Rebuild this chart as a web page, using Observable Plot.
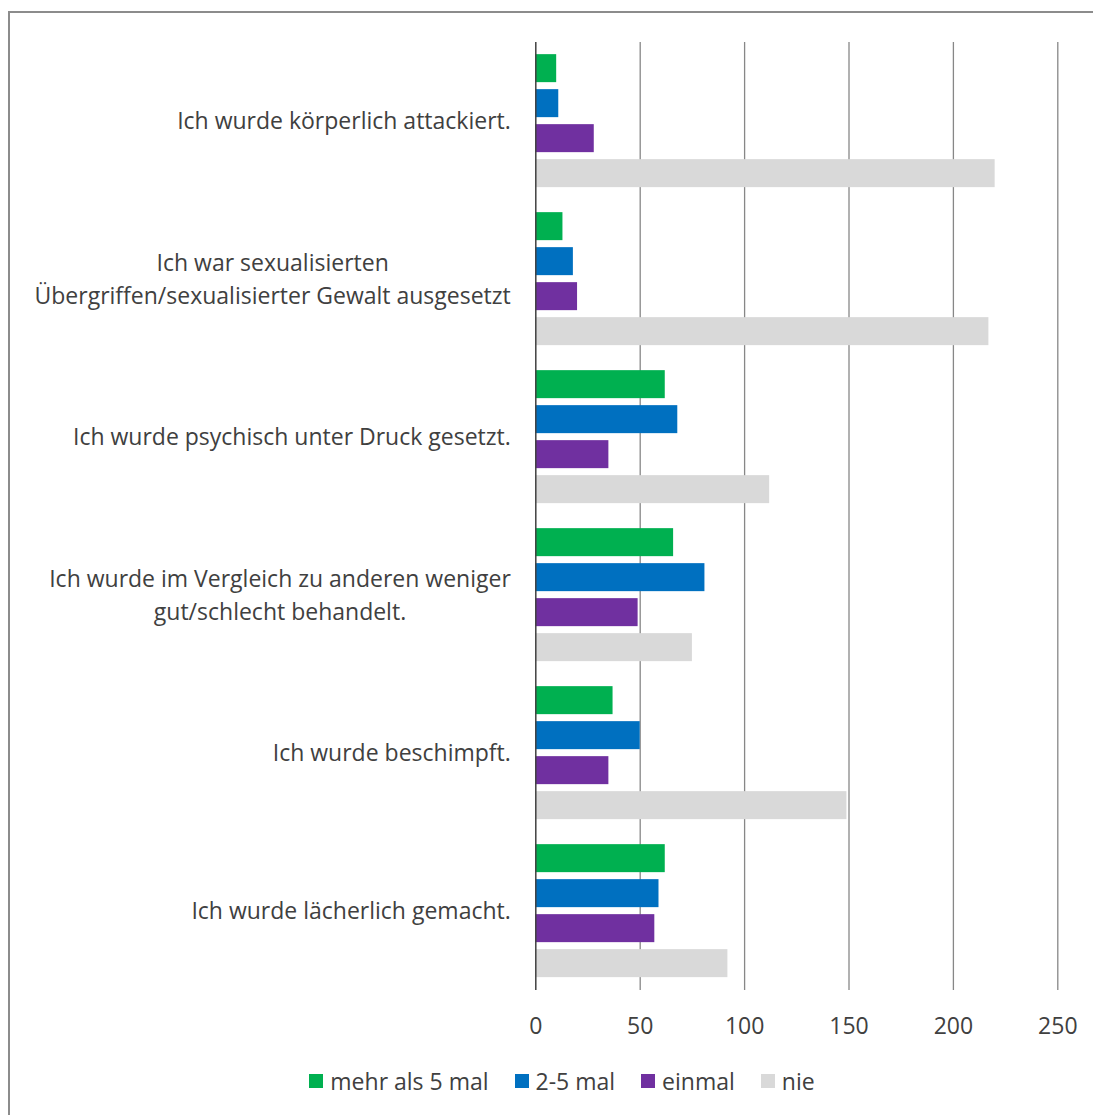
<!DOCTYPE html>
<html><head><meta charset="utf-8">
<script src="https://cdn.jsdelivr.net/npm/d3@7"></script>
<script src="https://cdn.jsdelivr.net/npm/@observablehq/plot@0.6"></script>
<style>
body{margin:0;background:#fff;font-family:"Open Sans", sans-serif;width:1093px;height:1115px;overflow:hidden;position:relative;}
#frame{position:absolute;left:8px;top:11px;width:1108px;height:1110px;border:2px solid #8c8c8c;box-sizing:border-box;}
#chart{position:absolute;left:0;top:0;}
#legend{position:absolute;top:1065px;left:8px;width:1108px;display:flex;justify-content:center;align-items:center;font-family:"Open Sans", sans-serif;font-size:23px;color:#404040;}
#legend .item{display:flex;align-items:center;margin:0 13px;}
#legend .sw{width:14px;height:14px;margin-right:7px;}
</style></head>
<body>
<div id="frame"></div>
<div id="chart"></div>
<div id="legend"></div>
<script>
const questions = [
  "Ich wurde körperlich attackiert.",
  "Ich war sexualisierten\nÜbergriffen/sexualisierter Gewalt ausgesetzt",
  "Ich wurde psychisch unter Druck gesetzt.",
  "Ich wurde im Vergleich zu anderen weniger\ngut/schlecht behandelt.",
  "Ich wurde beschimpft.",
  "Ich wurde lächerlich gemacht."
];
const series = ["mehr als 5 mal", "2-5 mal", "einmal", "nie"];
const mehrAls5 = [10, 13, 62, 66, 37, 62];
const zweiBis5 = [11, 18, 68, 81, 50, 59];
const einmal   = [28, 20, 35, 49, 35, 57];
const nie      = [220, 217, 112, 75, 149, 92];
const xTicks = [0, 50, 100, 150, 200, 250];
const colors = ["#00B050", "#0070C0", "#7030A0", "#D9D9D9"];

const valuesBySeries = [mehrAls5, zweiBis5, einmal, nie];
const data = [];
questions.forEach((q, i) => {
  series.forEach((s, j) => data.push({q, s, v: valuesBySeries[j][i]}));
});

const chart = Plot.plot({
  width: 1093,
  height: 1060,
  marginLeft: 535.3,
  marginRight: 35.7,
  marginTop: 40.85,
  marginBottom: 69.3,
  style: {fontFamily: "'Open Sans', sans-serif", fontSize: "23px", color: "#404040", background: "transparent"},
  x: {domain: [0, 250]},
  fy: {domain: questions, padding: 0},
  y: {domain: series, paddingInner: 0.2, paddingOuter: 0.3, axis: null},
  color: {domain: series, range: colors},
  marks: [
    Plot.gridX(xTicks.filter(d => d > 0), {stroke: "#878787", strokeOpacity: 1, strokeWidth: 1.3}),
    Plot.barX(data, {fy: "q", y: "s", x: "v", fill: "s"}),
    Plot.ruleX([0], {stroke: "#404040", strokeWidth: 1.5}),
    Plot.axisX({ticks: xTicks, tickSize: 0, tickPadding: 27, label: null, fontSize: 23}),
    Plot.axisFy({anchor: "left", tickSize: 0, tickPadding: 25, label: null, fontSize: 23, lineHeight: 1.44, dy: -3})
  ]
});
document.getElementById("chart").appendChild(chart);

// center multi-line category labels relative to each other (Excel style)
chart.querySelectorAll("text").forEach(t => {
  const spans = t.querySelectorAll("tspan");
  if (spans.length > 1) {
    let w = 0;
    spans.forEach(sp => { w = Math.max(w, sp.getComputedTextLength()); });
    t.setAttribute("text-anchor", "middle");
    t.style.textAnchor = "middle";
    spans.forEach(sp => sp.setAttribute("x", -w / 2));
  }
});

const legend = document.getElementById("legend");
series.forEach((s, j) => {
  const it = document.createElement("div");
  it.className = "item";
  const sw = document.createElement("div");
  sw.className = "sw";
  sw.style.background = colors[j];
  const lab = document.createElement("span");
  lab.textContent = s;
  it.appendChild(sw);
  it.appendChild(lab);
  legend.appendChild(it);
});
</script>
</body></html>
